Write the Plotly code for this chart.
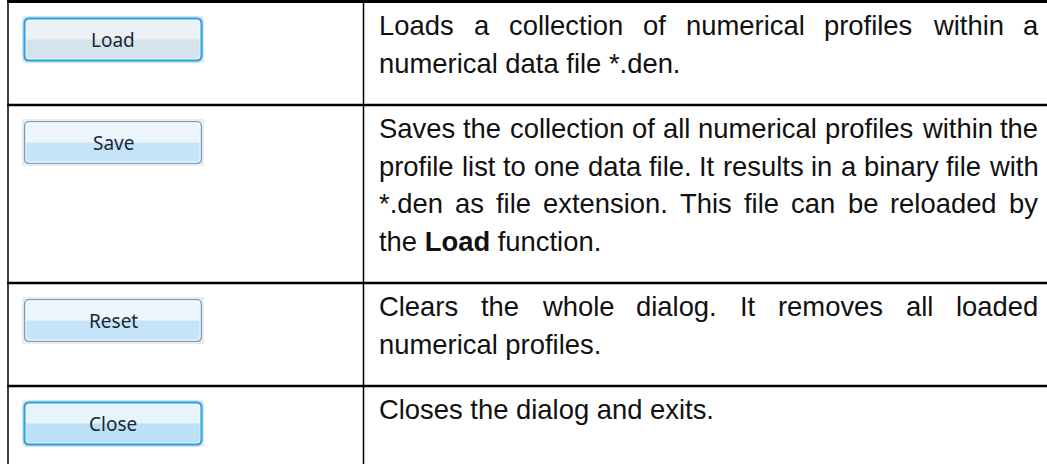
import plotly.graph_objects as go

# ---------------- data ----------------
buttons = ["Load", "Save", "Reset", "Close"]
descriptions = [
    ["Loads a collection of numerical profiles within a",
     "numerical data file *.den."],
    ["Saves the collection of all numerical profiles within the",
     "profile list to one data file. It results in a binary file with",
     "*.den as file extension. This file can be reloaded by",
     "the <b>Load</b> function."],
    ["Clears the whole dialog. It removes all loaded",
     "numerical profiles."],
    ["Closes the dialog and exits."],
]

# ---------------- styles / geometry ----------------
W, H = 1047, 464
LEFT_X, COL_X = 8, 363.5
TEXT_X0, TEXT_X1 = 378, 1037
FS = 27.4           # description font size (px)
LINE = 37.5         # line pitch
PAD = 28            # vertical cell padding total
BASE0 = 33          # first baseline offset from row top
BTN_X0, BTN_X1, BTN_TOP, BTN_H = 22, 204, 14, 47
TEXT_FONT = "Liberation Sans, Arial, sans-serif"
BTN_FONT = "Noto Sans, Open Sans, sans-serif"

btn_styles = [
    dict(top="#ebf1f5", bottom="#d5e3eb", border="#2fa3e3", halo="#b3def5"),
    dict(top="#edf6fc", bottom="#c5e4f7", border="#7e9db9", halo=None),
    dict(top="#edf6fc", bottom="#c5e4f7", border="#7e9db9", halo=None),
    dict(top="#e6f4fc", bottom="#bce1f6", border="#2fa3e3", halo="#b3def5"),
]

# Arial / Liberation Sans advance widths (1/1000 em)
ADV = dict(a=556, b=556, c=500, d=556, e=556, f=278, g=556, h=556, i=222, j=222,
           k=500, l=222, m=833, n=556, o=556, p=556, q=556, r=333, s=500, t=278,
           u=556, v=500, w=722, x=500, y=500, z=500,
           A=667, B=667, C=722, D=722, E=667, F=611, G=778, H=722, I=278, J=500,
           K=667, L=556, M=833, N=722, O=778, P=667, Q=778, R=722, S=667, T=611,
           U=722, V=667, W=944, X=667, Y=667, Z=611)
ADV.update({" ": 278, "*": 389, ".": 278, ",": 278, "-": 333})


def text_width(s):
    return sum(ADV.get(ch, 556) for ch in s) * FS / 1000.0


def rounded(x0, y0, x1, y1, r):
    return (f"M {x0+r},{y0} L {x1-r},{y0} Q {x1},{y0} {x1},{y0+r} "
            f"L {x1},{y1-r} Q {x1},{y1} {x1-r},{y1} L {x0+r},{y1} "
            f"Q {x0},{y1} {x0},{y1-r} L {x0},{y0+r} Q {x0},{y0} {x0+r},{y0} Z")


def row_height(lines):
    return max(PAD + len(lines) * LINE, BTN_TOP + BTN_H + 16)


shapes, annotations = [], []

# row geometry derived from the number of text lines
tops = []
top = 2.0
for lines in descriptions:
    tops.append(top)
    top += row_height(lines)
bottoms = [t + row_height(l) for t, l in zip(tops, descriptions)]

# table borders
shapes.append(dict(type="line", x0=LEFT_X - 0.75, x1=W + 5, y0=1.5, y1=1.5,
                   line=dict(color="black", width=3)))
for b in bottoms[:-1]:
    shapes.append(dict(type="line", x0=LEFT_X - 0.75, x1=W + 5, y0=b, y1=b,
                       line=dict(color="black", width=2.5)))
for x in (LEFT_X, COL_X):
    shapes.append(dict(type="line", x0=x, x1=x, y0=0, y1=H + 5,
                       line=dict(color="black", width=1.5)))

# buttons
for label, t, st in zip(buttons, tops, btn_styles):
    y0, y1 = t + BTN_TOP, t + BTN_TOP + BTN_H
    shapes.append(dict(type="rect", x0=BTN_X0, x1=BTN_X1, y0=y0, y1=y1,
                       fillcolor="#ececec", line=dict(width=0)))
    ix0, ix1, iy0, iy1 = BTN_X0 + 2.5, BTN_X1 - 2.5, y0 + 2.5, y1 - 2.5
    path = rounded(ix0, iy0, ix1, iy1, 5)
    if st["halo"]:
        shapes.append(dict(type="path", path=path, fillcolor=st["bottom"],
                           line=dict(color=st["halo"], width=4)))
    shapes.append(dict(type="path", path=path, fillcolor=st["bottom"],
                       line=dict(width=0)))
    mid = (iy0 + iy1) / 2
    shapes.append(dict(type="rect", x0=ix0 + 1.5, x1=ix1 - 1.5, y0=iy0 + 1.5, y1=mid,
                       fillcolor=st["top"], line=dict(width=0)))
    shapes.append(dict(type="path", path=rounded(ix0 + 1.5, iy0 + 1.5, ix1 - 1.5, iy1 - 1.5, 3.5),
                       fillcolor="rgba(0,0,0,0)",
                       line=dict(color="rgba(255,255,255,0.7)", width=1)))
    shapes.append(dict(type="path", path=path, fillcolor="rgba(0,0,0,0)",
                       line=dict(color=st["border"], width=2 if st["halo"] else 1.2)))
    annotations.append(dict(x=(BTN_X0 + BTN_X1) / 2, y=(y0 + y1) / 2, text=label,
                            showarrow=False, xanchor="center", yanchor="middle",
                            font=dict(family=BTN_FONT, size=19, color="#1a2636")))

# descriptions: justified lines, last line of each paragraph left-aligned
avail = TEXT_X1 - TEXT_X0
for lines, t in zip(descriptions, tops):
    for i, line in enumerate(lines):
        yc = t + BASE0 + i * LINE - 0.33 * FS
        last = i == len(lines) - 1
        words = line.split(" ")
        if last or len(words) < 2:
            annotations.append(dict(x=TEXT_X0, y=yc, text=line, showarrow=False,
                                    xanchor="left", yanchor="middle", borderpad=0,
                                    font=dict(family=TEXT_FONT, size=FS, color="#111111")))
            continue
        widths = [text_width(w) for w in words]
        gap = (avail - sum(widths)) / (len(words) - 1)
        x = TEXT_X0
        for w, wd in zip(words, widths):
            annotations.append(dict(x=x, y=yc, text=w, showarrow=False,
                                    xanchor="left", yanchor="middle", borderpad=0,
                                    font=dict(family=TEXT_FONT, size=FS, color="#111111")))
            x += wd + gap

fig = go.Figure()
fig.update_layout(
    width=W, height=H, margin=dict(l=0, r=0, t=0, b=0),
    paper_bgcolor="white", plot_bgcolor="white",
    xaxis=dict(range=[0, W], visible=False, fixedrange=True),
    yaxis=dict(range=[H, 0], visible=False, fixedrange=True),
    shapes=shapes, annotations=annotations, showlegend=False,
)
fig.write_html("out.html", config={"displayModeBar": False},
               post_script="document.body.style.margin='0';"
                           "document.body.style.overflow='hidden';")
